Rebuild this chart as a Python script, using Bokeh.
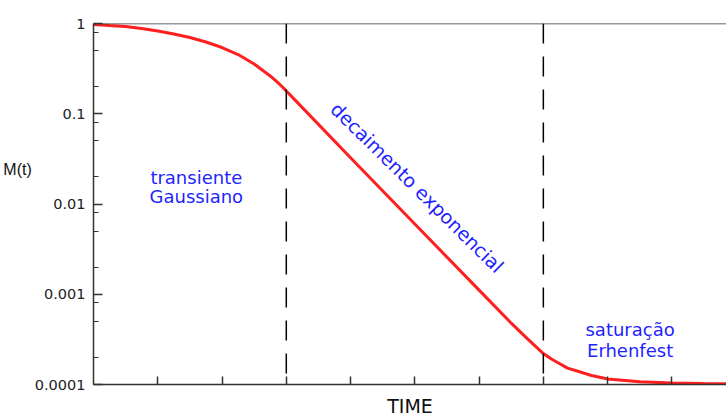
from bokeh.plotting import figure
from bokeh.models import FixedTicker, Span, Label, Range1d
from bokeh.embed import file_html
from bokeh.resources import INLINE

# ---- data ----
t = [0.0, 0.25, 0.5, 0.75, 1.0, 1.25, 1.5, 1.75, 2.0, 2.25, 2.5, 2.75, 2.9,
     3.0, 3.1, 3.25, 4.0, 5.0, 6.0, 6.5, 6.75, 7.0, 7.125, 7.25, 7.375, 7.5,
     7.625, 7.75, 8.0, 8.5, 9.0, 9.5, 9.85]
M = [0.975, 0.950, 0.926, 0.880, 0.826, 0.765, 0.700, 0.624, 0.542, 0.453,
     0.356, 0.262, 0.211, 0.179, 0.151, 0.117, 0.0326, 0.0060, 0.00111,
     4.78e-4, 3.23e-4, 2.2e-4, 1.92e-4, 1.71e-4, 1.52e-4, 1.43e-4, 1.34e-4,
     1.26e-4, 1.15e-4, 1.07e-4, 1.04e-4, 1.026e-4, 1.02e-4]

boundaries = [3, 7]                      # regime boundaries (dashed lines)
x_ticks = [1, 2, 3, 4, 5, 6, 7, 8, 9]
y_ticks = [0.0001, 0.001, 0.01, 0.1, 1]
y_tick_labels = ["0.0001", "0.001", "0.01", "0.1", "1"]
y_minor = [m * 10.0 ** k for k in range(-4, 0) for m in (2, 5, 8)]

regime_text = ["transiente\nGaussiano", "decaimento exponencial", "saturação\nErhenfest"]

BLUE = "#1f1fff"
RED = "#ff1f1f"
AX = "#333333"

p = figure(width=726, height=419, y_axis_type="log",
           x_range=Range1d(0, 9.85), y_range=Range1d(1e-4, 1),
           output_backend="svg", toolbar_location=None,
           min_border_left=93, min_border_right=0,
           min_border_top=23, min_border_bottom=35)
p.grid.visible = False
p.outline_line_color = None
p.background_fill_color = "white"
p.border_fill_color = "white"

# x axis
xa = p.xaxis[0]
xa.ticker = FixedTicker(ticks=x_ticks)
xa.major_label_overrides = {v: "" for v in x_ticks}
xa.major_label_text_font_size = "0px"
xa.major_label_standoff = 0
xa.major_tick_in = 8
xa.major_tick_out = 0
xa.minor_tick_line_color = None
xa.axis_line_color = AX
xa.axis_line_width = 1.5
xa.major_tick_line_color = AX
xa.major_tick_line_width = 1.5
xa.axis_label = "TIME"
xa.axis_label_standoff = 10
xa.axis_label_text_font = "DejaVu Sans"
xa.axis_label_text_font_size = "19px"
xa.axis_label_text_font_style = "normal"
xa.axis_label_text_color = "#111111"

# y axis
ya = p.yaxis[0]
ya.ticker = FixedTicker(ticks=y_ticks, minor_ticks=y_minor)
ya.major_label_overrides = dict(zip(y_ticks, y_tick_labels))
ya.major_tick_in = 9
ya.major_tick_out = 0
ya.minor_tick_in = 5
ya.minor_tick_out = 0
ya.major_label_standoff = 8
ya.major_label_text_font = "DejaVu Sans"
ya.major_label_text_font_size = "14.5px"
ya.major_label_text_color = "#222222"
ya.axis_line_color = AX
ya.axis_line_width = 1.5
ya.major_tick_line_color = AX
ya.major_tick_line_width = 1.5
ya.minor_tick_line_color = AX
ya.minor_tick_line_width = 1.2
# horizontal title, lifted above the frame centre by trailing blank lines
ya.axis_label = "M(t)\n\n\n"
ya.axis_label_orientation = "horizontal"
ya.axis_label_standoff = 0
ya.axis_label_text_font = "Liberation Sans"
ya.axis_label_text_font_size = "16px"
ya.axis_label_text_font_style = "normal"
ya.axis_label_text_line_height = 1.35
ya.axis_label_text_color = "#111111"

# top border
p.add_layout(Span(location=1, dimension="width", line_color=AX, line_width=1.5))

# regime boundaries
for b in boundaries:
    p.add_layout(Span(location=b, dimension="height", line_color="black",
                      line_width=1.5, line_dash="20 13"))

# curve
p.line(t, M, line_color=RED, line_width=3)

# regime annotations
a, b_ = regime_text[0].split("\n")
p.add_layout(Label(x=1.60, y=0.0198, text=a, text_font="DejaVu Sans",
                   text_font_size="18px", text_color=BLUE,
                   text_align="center", text_baseline="alphabetic"))
p.add_layout(Label(x=1.60, y=0.0122, text=b_, text_font="DejaVu Sans",
                   text_font_size="18px", text_color=BLUE,
                   text_align="center", text_baseline="alphabetic"))
p.add_layout(Label(x=5.04, y=0.01524, text=regime_text[1], text_font="DejaVu Sans",
                   text_font_size="19px", text_color=BLUE, angle=-0.777,
                   text_align="center", text_baseline="middle"))
c, d = regime_text[2].split("\n")
p.add_layout(Label(x=8.35, y=4.04e-4, text=c, text_font="DejaVu Sans",
                   text_font_size="18px", text_color=BLUE,
                   text_align="center", text_baseline="alphabetic"))
p.add_layout(Label(x=8.35, y=2.38e-4, text=d, text_font="DejaVu Sans",
                   text_font_size="18px", text_color=BLUE,
                   text_align="center", text_baseline="alphabetic"))

open("out.html", "w").write(file_html(p, INLINE))
